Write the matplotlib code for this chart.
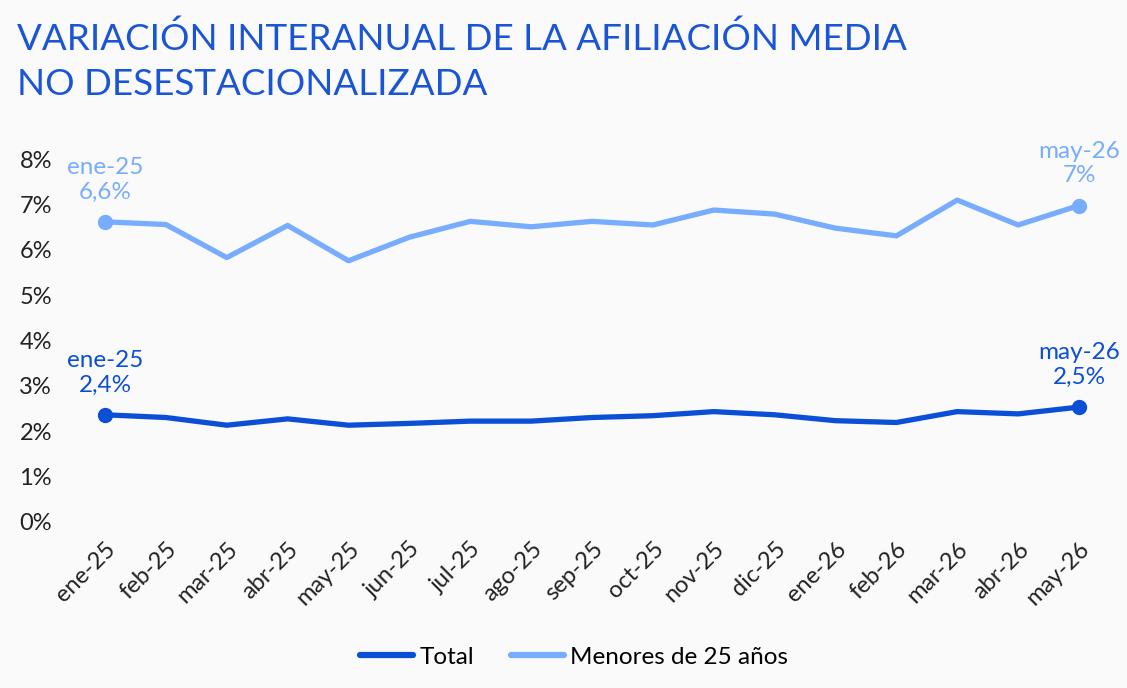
import matplotlib
matplotlib.use("Agg")
import matplotlib.pyplot as plt
from matplotlib.lines import Line2D

months = ["ene-25", "feb-25", "mar-25", "abr-25", "may-25", "jun-25", "jul-25",
          "ago-25", "sep-25", "oct-25", "nov-25", "dic-25", "ene-26", "feb-26",
          "mar-26", "abr-26", "may-26"]
total = [2.36, 2.30, 2.13, 2.27, 2.13, 2.17, 2.22, 2.22, 2.30, 2.34, 2.43,
         2.36, 2.23, 2.19, 2.43, 2.38, 2.53]
menores = [6.62, 6.56, 5.83, 6.54, 5.76, 6.28, 6.63, 6.51, 6.63, 6.55, 6.88,
           6.79, 6.48, 6.31, 7.10, 6.55, 6.98]
yticks = [0, 1, 2, 3, 4, 5, 6, 7, 8]
series_names = ["Total", "Menores de 25 años"]
title = "VARIACIÓN INTERANUAL DE LA AFILIACIÓN MEDIA\nNO DESESTACIONALIZADA"

DARK = "#0b4fd6"
LIGHT = "#78acff"
BG = "#fafafa"
FONT = "Lato"

plt.rcParams["font.family"] = [FONT, "DejaVu Sans"]

W, H = 1127, 688
fig = plt.figure(figsize=(W / 100, H / 100), dpi=100, facecolor=BG)

x0_px, x16_px = 105, 1079
left_px, right_px = 70, 1110
scale = (x16_px - x0_px) / 16
xmin = -(x0_px - left_px) / scale
xmax = 16 + (right_px - x16_px) / scale
y0_px, y8_px = 521.7, 159.3
ax = fig.add_axes([left_px / W, (H - y0_px) / H, (right_px - left_px) / W, (y0_px - y8_px) / H])
ax.set_facecolor(BG)
ax.set_xlim(xmin, xmax)
ax.set_ylim(0, 8)

x = list(range(len(months)))
ax.plot(x, total, color=DARK, lw=3.8, solid_capstyle="round", solid_joinstyle="round", zorder=3)
ax.plot(x, menores, color=LIGHT, lw=3.8, solid_capstyle="round", solid_joinstyle="round", zorder=3)

for ser, col in ((total, DARK), (menores, LIGHT)):
    for i in (0, len(months) - 1):
        ax.plot([x[i]], [ser[i]], "o", color=col, ms=10, zorder=4)
        val = f"{ser[i]:.1f}".replace(".", ",")
        if val.endswith(",0"):
            val = val[:-2]
        ax.annotate(f"{months[i]}\n{val}%", (x[i], ser[i]), xytext=(0, 14),
                    textcoords="offset points", ha="center", va="bottom",
                    color=col, fontsize=17.5, linespacing=1.2, annotation_clip=False)

for s in ax.spines.values():
    s.set_visible(False)
ax.set_yticks(yticks)
ax.set_yticklabels([f"{v}%" for v in yticks], fontsize=17, color="#222222")
ax.set_xticks(x)
ax.set_xticklabels(months, rotation=45, ha="right", va="top", rotation_mode="anchor",
                   fontsize=17, color="#222222")
ax.tick_params(axis="both", length=0)
ax.tick_params(axis="y", pad=13)
ax.tick_params(axis="x", pad=12)

fig.text(17 / W, 1 - 21 / H, title, ha="left", va="top", color="#1a55d6",
         fontsize=26.5, linespacing=1.45)

handles = [Line2D([0], [0], color=DARK, lw=4.5, solid_capstyle="round"),
           Line2D([0], [0], color=LIGHT, lw=4.5, solid_capstyle="round")]
fig.legend(handles, series_names, loc="center", bbox_to_anchor=(574 / W, 1 - 657 / H),
           ncol=2, frameon=False, fontsize=17.5, handlelength=2.2, handletextpad=0.25,
           columnspacing=1.5)

fig.savefig("out.png", dpi=100, facecolor=BG)
